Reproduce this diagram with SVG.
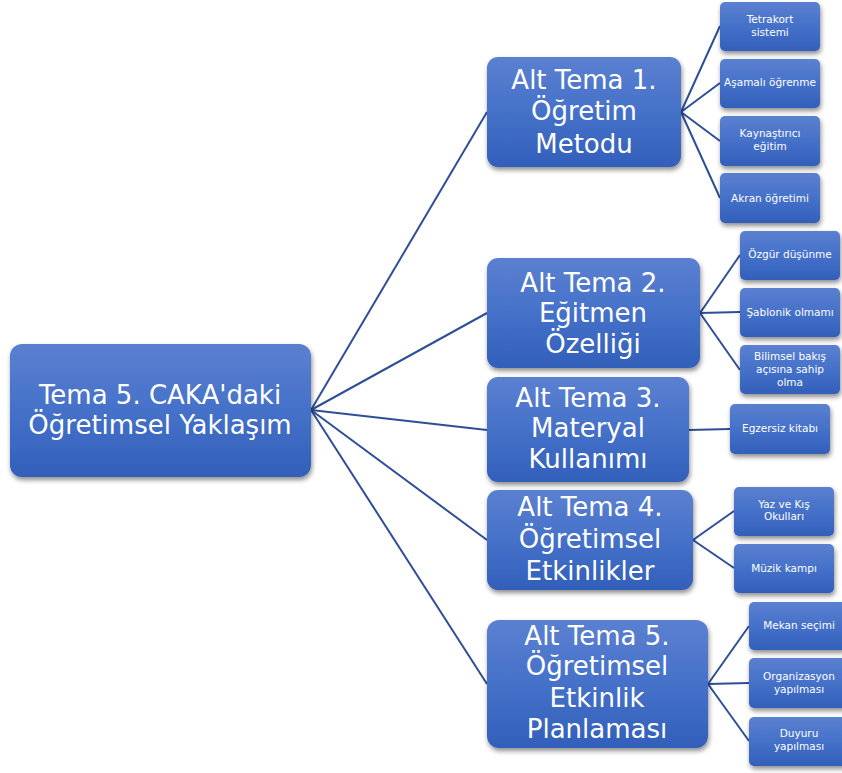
<svg xmlns="http://www.w3.org/2000/svg" width="842" height="773" viewBox="0 0 842 773">
<defs>
<linearGradient id="g" x1="0" y1="0" x2="0" y2="1">
<stop offset="0" stop-color="#5b80d0"/>
<stop offset="0.5" stop-color="#4571c9"/>
<stop offset="1" stop-color="#325fba"/>
</linearGradient>
<filter id="sh" x="-10%" y="-10%" width="130%" height="140%">
<feGaussianBlur in="SourceAlpha" stdDeviation="2.5"/>
<feOffset dx="1" dy="3" result="b"/>
<feComponentTransfer><feFuncA type="linear" slope="0.45"/></feComponentTransfer>
<feMerge><feMergeNode/><feMergeNode in="SourceGraphic"/></feMerge>
</filter>
</defs>
<style>
.box{fill:url(#g);filter:url(#sh);}
.big{font-family:"DejaVu Sans","Liberation Sans",sans-serif;font-size:26px;fill:#fff;text-anchor:middle;}
.sm{font-family:"DejaVu Sans","Liberation Sans",sans-serif;font-size:10.5px;fill:#fff;text-anchor:middle;}
.c{stroke:#2e4f96;stroke-width:2;fill:none;}
</style>
<rect width="842" height="773" fill="#fff"/>
<g id="connectors" class="c">
<line x1="311" y1="410" x2="487" y2="112"/>
<line x1="311" y1="410" x2="487" y2="313"/>
<line x1="311" y1="410" x2="487" y2="430"/>
<line x1="311" y1="410" x2="487" y2="540"/>
<line x1="311" y1="410" x2="487" y2="684"/>
<line x1="681" y1="112" x2="720" y2="26"/>
<line x1="681" y1="112" x2="720" y2="83"/>
<line x1="681" y1="112" x2="720" y2="141"/>
<line x1="681" y1="112" x2="720" y2="198"/>
<line x1="700" y1="313" x2="740" y2="255"/>
<line x1="700" y1="313" x2="740" y2="312"/>
<line x1="700" y1="313" x2="740" y2="370"/>
<line x1="689" y1="430" x2="730" y2="429"/>
<line x1="693" y1="540" x2="734" y2="511"/>
<line x1="693" y1="540" x2="734" y2="568"/>
<line x1="708" y1="684" x2="749" y2="626"/>
<line x1="708" y1="684" x2="749" y2="683"/>
<line x1="708" y1="684" x2="749" y2="741"/>
</g>
<g id="root"><rect class="box" x="10" y="344" width="301" height="133" rx="12"/>
<text class="big" x="160" y="404">Tema 5. CAKA'daki</text><text class="big" x="160" y="434">Öğretimsel Yaklaşım</text></g>
<g id="alt1"><rect class="box" x="487" y="57" width="194" height="110" rx="11"/>
<text class="big" x="584" y="89">Alt Tema 1.</text><text class="big" x="584" y="120">Öğretim</text><text class="big" x="584" y="153">Metodu</text></g>
<g id="alt2"><rect class="box" x="487" y="258" width="213" height="110" rx="11"/>
<text class="big" x="593" y="292">Alt Tema 2.</text><text class="big" x="593" y="322">Eğitmen</text><text class="big" x="593" y="353">Özelliği</text></g>
<g id="alt3"><rect class="box" x="487" y="377" width="202" height="105" rx="11"/>
<text class="big" x="588" y="407">Alt Tema 3.</text><text class="big" x="588" y="437">Materyal</text><text class="big" x="588" y="468">Kullanımı</text></g>
<g id="alt4"><rect class="box" x="487" y="490" width="206" height="100" rx="11"/>
<text class="big" x="590" y="516">Alt Tema 4.</text><text class="big" x="590" y="548">Öğretimsel</text><text class="big" x="590" y="580">Etkinlikler</text></g>
<g id="alt5"><rect class="box" x="487" y="620" width="221" height="128" rx="12"/>
<text class="big" x="597" y="645">Alt Tema 5.</text><text class="big" x="597" y="675">Öğretimsel</text><text class="big" x="597" y="707">Etkinlik</text><text class="big" x="597" y="738">Planlaması</text></g>
<g id="l1"><rect class="box" x="720" y="2" width="100" height="49" rx="5"/><text class="sm" x="770" y="23">Tetrakort</text><text class="sm" x="770" y="36">sistemi</text></g>
<g id="l2"><rect class="box" x="720" y="59" width="100" height="49" rx="5"/><text class="sm" x="770" y="86">Aşamalı öğrenme</text></g>
<g id="l3"><rect class="box" x="720" y="116" width="100" height="50" rx="5"/><text class="sm" x="770" y="137">Kaynaştırıcı</text><text class="sm" x="770" y="150">eğitim</text></g>
<g id="l4"><rect class="box" x="720" y="173" width="100" height="50" rx="5"/><text class="sm" x="770" y="202">Akran öğretimi</text></g>
<g id="l5"><rect class="box" x="740" y="231" width="100" height="49" rx="5"/><text class="sm" x="790" y="258">Özgür düşünme</text></g>
<g id="l6"><rect class="box" x="740" y="288" width="100" height="49" rx="5"/><text class="sm" x="790" y="316">Şablonik olmamı</text></g>
<g id="l7"><rect class="box" x="740" y="345" width="100" height="49" rx="5"/><text class="sm" x="790" y="360">Bilimsel bakış</text><text class="sm" x="790" y="373">açısına sahip</text><text class="sm" x="790" y="386">olma</text></g>
<g id="l8"><rect class="box" x="730" y="404" width="100" height="50" rx="5"/><text class="sm" x="780" y="432">Egzersiz kitabı</text></g>
<g id="l9"><rect class="box" x="734" y="487" width="100" height="49" rx="5"/><text class="sm" x="784" y="508">Yaz ve Kış</text><text class="sm" x="784" y="520">Okulları</text></g>
<g id="l10"><rect class="box" x="734" y="544" width="100" height="49" rx="5"/><text class="sm" x="784" y="572">Müzik kampı</text></g>
<g id="l11"><rect class="box" x="749" y="602" width="100" height="48" rx="5"/><text class="sm" x="799" y="629">Mekan seçimi</text></g>
<g id="l12"><rect class="box" x="749" y="658" width="100" height="50" rx="5"/><text class="sm" x="799" y="680">Organizasyon</text><text class="sm" x="799" y="693">yapılması</text></g>
<g id="l13"><rect class="box" x="749" y="717" width="100" height="49" rx="5"/><text class="sm" x="799" y="737">Duyuru</text><text class="sm" x="799" y="750">yapılması</text></g>
</svg>
